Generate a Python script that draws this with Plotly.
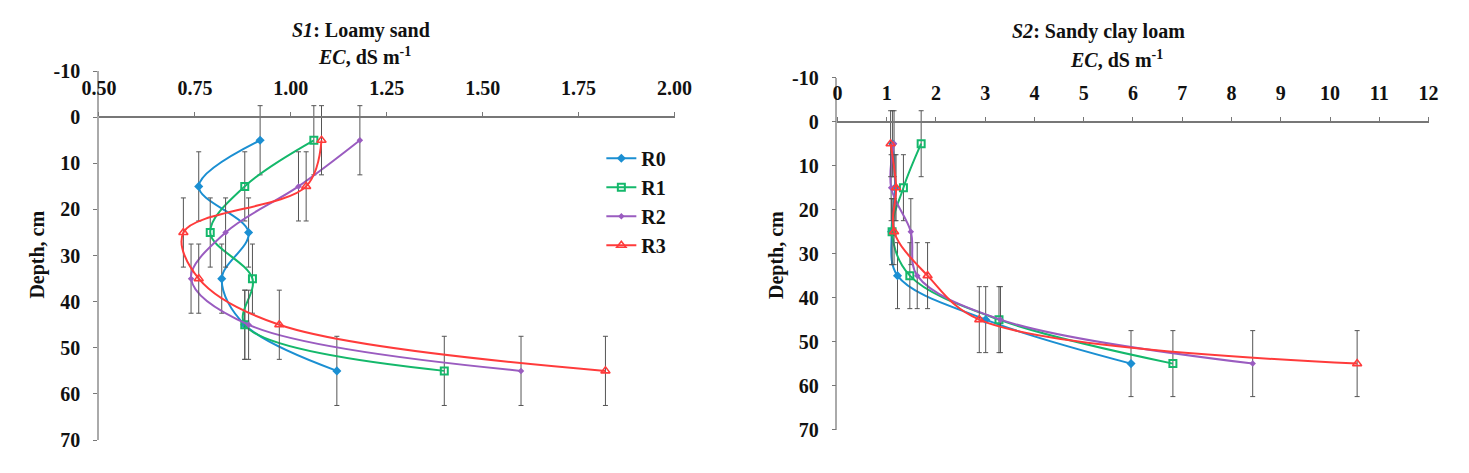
import plotly.graph_objects as go

depth = [5, 15, 25, 35, 45, 55]
depth_err = 7.5

treatments = ['R0', 'R1', 'R2', 'R3']

# S1: loamy sand, EC (dS/m)
s1_r0 = [0.92, 0.76, 0.89, 0.82, 0.88, 1.12]
s1_r1 = [1.06, 0.88, 0.79, 0.90, 0.88, 1.40]
s1_r2 = [1.18, 1.02, 0.83, 0.74, 0.89, 1.60]
s1_r3 = [1.08, 1.04, 0.72, 0.76, 0.97, 1.82]

# S2: sandy clay loam, EC (dS/m)
s2_r0 = [1.12, 1.17, 1.10, 1.22, 3.01, 5.96]
s2_r1 = [1.70, 1.34, 1.11, 1.47, 3.28, 6.81]
s2_r2 = [1.15, 1.09, 1.49, 1.62, 3.31, 8.43]
s2_r3 = [1.08, 1.19, 1.15, 1.83, 2.88, 10.55]

s1_ticks = [0.50, 0.75, 1.00, 1.25, 1.50, 1.75, 2.00]
s2_ticks = list(range(0, 13))
depth_ticks = [-10, 0, 10, 20, 30, 40, 50, 60, 70]

colors = ['#1B8FD2', '#14B86B', '#9A5CC0', '#FF3B3B']
markers = [
    dict(symbol='diamond', size=7),
    dict(symbol='square-open', size=7, line=dict(width=2)),
    dict(symbol='diamond', size=5),
    dict(symbol='triangle-up-open', size=8, line=dict(width=1.6)),
]

W, H = 1469, 473
FONT = 'Liberation Serif'

fig = go.Figure()

for panel, series in enumerate([[s1_r0, s1_r1, s1_r2, s1_r3], [s2_r0, s2_r1, s2_r2, s2_r3]]):
    xa = 'x' if panel == 0 else 'x2'
    ya = 'y' if panel == 0 else 'y2'
    for i, vals in enumerate(series):
        fig.add_trace(go.Scatter(
            x=vals, y=depth, name=treatments[i], xaxis=xa, yaxis=ya,
            mode='lines+markers',
            line=dict(color=colors[i], width=2, shape='spline', smoothing=1),
            marker=dict(color=colors[i], **markers[i]),
            error_y=dict(type='constant', value=depth_err, color='#555555', thickness=1, width=2.5),
            showlegend=(panel == 0), legendgroup=treatments[i],
        ))

tickfont = dict(family=FONT, size=20, color='#111111', weight='bold')

# pixel geometry of the two panels
left = dict(x0=83, x1=673, ytop=63, ybot=450)
right = dict(x0=840, x1=1446, ytop=70, ybot=439)


def ydom(p):
    return [1 - p['ybot'] / H, 1 - p['ytop'] / H]


def xpos(p):
    # x axis crosses the depth axis at 0
    zero_px = p['ytop'] + (p['ybot'] - p['ytop']) * 10 / 80
    return 1 - zero_px / H


axis_common = dict(showgrid=False, zeroline=False, ticks='outside', ticklen=4,
                   tickcolor='#777777', tickfont=tickfont, ticklabelstandoff=9)
depth_text = [str(v) for v in depth_ticks]

fig.update_layout(
    width=W, height=H, autosize=False,
    margin=dict(l=0, r=0, t=0, b=0),
    paper_bgcolor='white', plot_bgcolor='white',
    showlegend=True,
    legend=dict(x=598 / W, y=1 - 134 / H, xanchor='left', yanchor='top',
                bgcolor='rgba(0,0,0,0)', tracegroupgap=0, itemwidth=30,
                font=dict(family=FONT, size=20, color='#111111', weight='bold')),
    xaxis=dict(domain=[left['x0'] / W, left['x1'] / W], range=[0.5, 2.0],
               tickvals=s1_ticks, ticktext=[f'{v:.2f}' for v in s1_ticks],
               side='top', anchor='free', position=xpos(left),
               showline=True, linecolor='#777777', linewidth=1.5, **axis_common),
    yaxis=dict(domain=ydom(left), range=[70, -10], tickvals=depth_ticks, ticktext=depth_text,
               anchor='x', showline=True, linecolor='#aaaaaa', linewidth=1.5, **axis_common),
    xaxis2=dict(domain=[right['x0'] / W, right['x1'] / W], range=[0, 12],
                tickvals=s2_ticks,
                side='top', anchor='free', position=xpos(right),
                showline=True, linecolor='#777777', linewidth=1.5, **axis_common),
    yaxis2=dict(domain=ydom(right), range=[70, -10], tickvals=depth_ticks, ticktext=depth_text,
                anchor='x2', showline=True, linecolor='#aaaaaa', linewidth=1.5, **axis_common),
)

title_font = dict(family=FONT, size=20, color='#111111')
label_font = dict(family=FONT, size=20, color='#111111')

ann = [
    (352, 20, '<b><i>S1</i>: Loamy sand</b>', title_font, 0),
    (355, 47, '<b><i>EC</i>, dS m<sup>-1</sup></b>', label_font, 0),
    (1108, 22, '<b><i>S2</i>: Sandy clay loam</b>', title_font, 0),
    (1126, 50, '<b><i>EC</i>, dS m<sup>-1</sup></b>', label_font, 0),
    (20, 256, '<b>Depth, cm</b>', label_font, -90),
    (777, 256, '<b>Depth, cm</b>', label_font, -90),
]
for x, y, text, font, angle in ann:
    fig.add_annotation(x=x / W, y=1 - y / H, xref='paper', yref='paper', text=text,
                       showarrow=False, font=font, textangle=angle,
                       xanchor='center', yanchor='middle')

fig.write_html("out.html", config={'displayModeBar': False},
               post_script="document.body.style.margin='0';document.body.style.overflow='hidden';")
